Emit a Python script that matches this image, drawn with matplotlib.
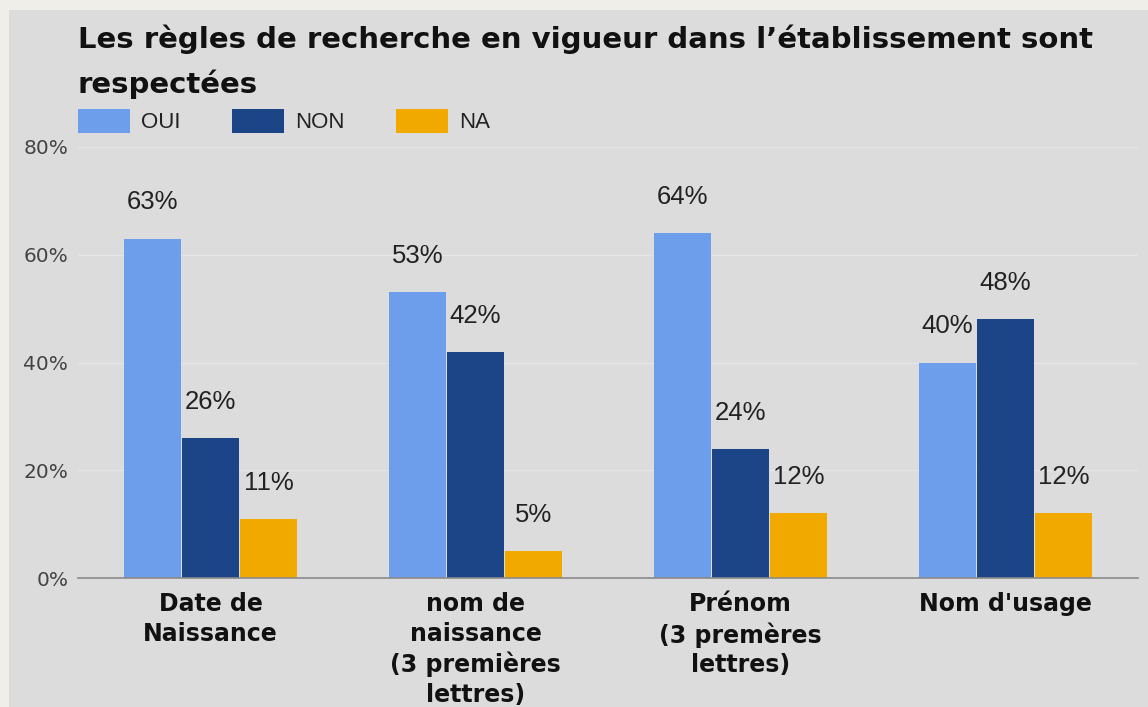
import matplotlib.pyplot as plt
import numpy as np
from matplotlib.patches import Rectangle

categories = [
    "Date de\nNaissance",
    "nom de\nnaissance\n(3 premières\nlettres)",
    "Prénom\n(3 premères\nlettres)",
    "Nom d'usage",
]
series_names = ["OUI", "NON", "NA"]
oui = [63, 53, 64, 40]
non = [26, 42, 24, 48]
na = [11, 5, 12, 12]
yticks = [0, 20, 40, 60, 80]
colors = ["#6d9eeb", "#1c4587", "#f1a900"]
title = "Les règles de recherche en vigueur dans l’établissement sont\nrespectées"

fig = plt.figure(figsize=(11.48, 7.07), dpi=100, facecolor="#efeee9")
fig.patches.append(
    Rectangle((9 / 1148, 0), 1 - 9 / 1148, 1 - 10 / 707, transform=fig.transFigure,
              facecolor="#dcdcdc", edgecolor="none", zorder=-5)
)
ax = fig.add_axes([78 / 1148, (707 - 578) / 707, (1138 - 78) / 1148, (578 - 147) / 707])
ax.set_facecolor("none")

x = np.arange(len(categories))
step = 0.219
width = 0.212
for i, (vals, name, col) in enumerate(zip([oui, non, na], series_names, colors)):
    bars = ax.bar(x + (i - 1) * step, vals, width, color=col, label=name,
                  edgecolor="none", zorder=3)
    for b, v in zip(bars, vals):
        ax.annotate(f"{v}%", (b.get_x() + b.get_width() / 2, v), xytext=(0, 26),
                    textcoords="offset points", ha="center", va="center",
                    fontsize=18.5, family="Liberation Sans", color="#222222")

ax.set_xlim(-0.5, len(categories) - 0.5)
ax.set_ylim(0, 80)
ax.set_yticks(yticks, [f"{t}%" for t in yticks])
ax.set_xticks(x, categories)
for lab in ax.get_xticklabels():
    lab.set_fontweight("bold")
    lab.set_fontsize(17)
    lab.set_linespacing(1.3)
    lab.set_va("top")
ax.tick_params(axis="x", length=0, pad=10, colors="#111111")
ax.tick_params(axis="y", length=0, pad=7, labelsize=14.5, colors="#444444")
ax.grid(True, axis="y", color="#e6e6e6", linewidth=1, zorder=1)
for s in ("top", "right", "left"):
    ax.spines[s].set_visible(False)
ax.spines["bottom"].set_color("#8a8a8a")
ax.spines["bottom"].set_linewidth(1.2)
ax.spines["bottom"].set_zorder(4)

fig.text(78 / 1148, 1 - 24 / 707, title, ha="left", va="top", fontsize=21,
         fontweight="bold", color="#111111", linespacing=1.68)

ax.legend(loc="center left", bbox_to_anchor=(78 / 1148, (707 - 121) / 707),
          bbox_transform=fig.transFigure,
          ncol=3, frameon=False, prop={"family": "Liberation Sans", "size": 16},
          handlelength=2.35, handleheight=1.3, handletextpad=0.5, columnspacing=2.3,
          borderaxespad=0, borderpad=0)
for t in ax.get_legend().get_texts():
    t.set_color("#222222")

fig.savefig("out.png", dpi=100, facecolor=fig.get_facecolor())
